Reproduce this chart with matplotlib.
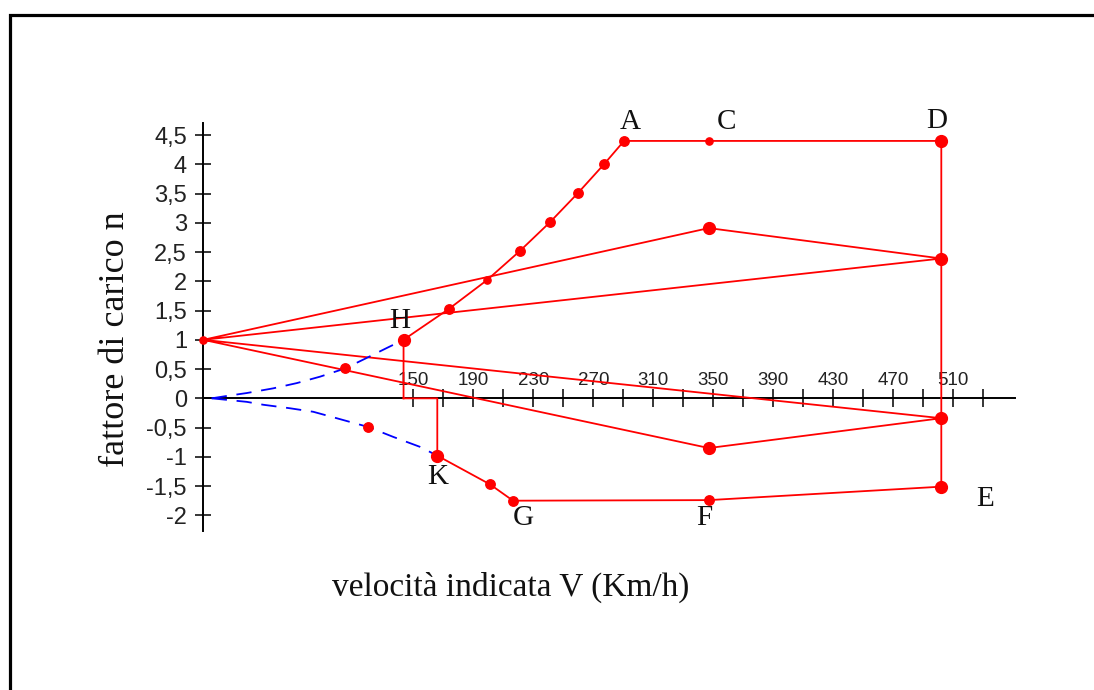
import matplotlib.pyplot as plt
from matplotlib.patches import Rectangle

plt.rcParams['lines.scale_dashes'] = False

# diagramma di manovra: velocita' (km/h) e fattore di carico n letti dal grafico
# curva di stallo positiva H -> A
pos_v = [143.5, 173.8, 199.1, 221.1, 241.1, 259.8, 277.1, 290.5]
pos_n = [1.0, 1.53, 2.02, 2.52, 3.01, 3.51, 4.00, 4.40]
# curva di stallo negativa K -> G
neg_v = [166, 201.1, 216.5]
neg_n = [-0.98, -1.47, -1.75]
# punti C/F e D/E
v_c = 347
v_d = 502
n_max = 4.40
n_e = -1.51
n_f = -1.74

# linee di raffica
gust_v = [10, 347, 502, 10]
gust_up = [1, 2.91, 2.39, 1]
gust_dn = [1, -0.85, -0.34, 1]

# curve blu tratteggiate
blue_up_v = [15.6, 25.6, 38.9, 56.5, 72.3, 87.8, 104.5, 118.9, 132.3, 143.5]
blue_up_n = [0.0, 0.04, 0.09, 0.17, 0.26, 0.37, 0.51, 0.69, 0.86, 1.0]
blue_dn_v = [15.6, 23.3, 38.9, 50.0, 67.8, 83.3, 98.9, 120.0, 136.7, 154.5, 166]
blue_dn_n = [0.0, -0.02, -0.06, -0.11, -0.17, -0.23, -0.34, -0.49, -0.66, -0.83, -0.98]

yticks = [-2, -1.5, -1, -0.5, 0, 0.5, 1, 1.5, 2, 2.5, 3, 3.5, 4, 4.5]
ylabels = ['-2', '-1,5', '-1', '-0,5', '0', '0,5', '1', '1,5', '2', '2,5', '3', '3,5', '4', '4,5']
xmajor = [150, 190, 230, 270, 310, 350, 390, 430, 470, 510]
xminor = [170, 210, 250, 290, 330, 370, 410, 450, 490, 530]

W, H = 1094, 690
fig = plt.figure(figsize=(W / 100, H / 100), dpi=100)
ax = fig.add_axes([0, 0, 1, 1])
ax.set_xlim(-125.53, 603.8)
ax.set_ylim(-4.986, 6.809)
ax.patch.set_visible(False)

# cornice
fig.patches.append(Rectangle((9.5 / W, -0.2), 1.5, 1.2 - 15 / H, transform=fig.transFigure,
                             fill=False, lw=2.3, ec='black'))

red = '#ff0000'
env_x = [pos_v[0]] + pos_v + [v_c, v_d, v_d, v_c] + neg_v[::-1] + [neg_v[0], pos_v[0]]
env_y = [0] + pos_n + [n_max, n_max, n_e, n_f] + neg_n[::-1] + [0, 0]
ax.plot(env_x, env_y, color=red, lw=1.3, zorder=3)
ax.plot(gust_v, gust_up, color=red, lw=1.3, zorder=3)
ax.plot(gust_v, gust_dn, color=red, lw=1.3, zorder=3)

ax.plot(blue_up_v, blue_up_n, color='#0000ff', lw=1.3, dashes=(11, 7), zorder=3)
ax.plot(blue_dn_v, blue_dn_n, color='#0000ff', lw=1.3, dashes=(11, 7), zorder=3)

# punti
big = [(pos_v[0], pos_n[0]), (v_d, n_max), (v_d, n_e), (gust_v[1], gust_up[1]),
       (gust_v[2], gust_up[2]), (gust_v[1], gust_dn[1]), (gust_v[2], gust_dn[2]),
       (neg_v[0], neg_n[0])]
mid = [(v, n) for v, n in zip(pos_v[1:], pos_n[1:]) if v != pos_v[2]] + \
      [(neg_v[1], neg_n[1]), (neg_v[2], neg_n[2]), (v_c, n_f),
       (blue_up_v[6], blue_up_n[6]), (blue_dn_v[7], blue_dn_n[7])]
small = [(pos_v[2], pos_n[2]), (v_c, n_max), (gust_v[0], gust_up[0])]
for pts, ms in [(big, 8.5), (mid, 6.8), (small, 5.2)]:
    ax.plot([p[0] for p in pts], [p[1] for p in pts], 'o', color=red, ms=ms, mec=red, zorder=4)

# assi
for s in ['right', 'bottom']:
    ax.spines[s].set_visible(False)
ax.spines['left'].set_position(('data', 10))
ax.spines['left'].set_bounds(-2.26, 4.7)
ax.spines['top'].set_position(('data', 0))
ax.spines['top'].set_bounds(10, 551)
for s in ['left', 'top']:
    ax.spines[s].set_linewidth(1.4)

ax.yaxis.set_ticks_position('left')
ax.set_yticks(yticks)
ax.set_yticklabels(ylabels, fontfamily='Liberation Sans', fontsize=17, color='#222222')
ax.tick_params(axis='y', direction='inout', length=11.5, width=1.1, pad=6)

ax.xaxis.set_ticks_position('top')
ax.set_xticks(xmajor)
ax.set_xticks(xminor, minor=True)
ax.set_xticklabels([str(v) for v in xmajor], fontfamily='Liberation Sans', fontsize=13.5, color='#222222')
ax.tick_params(axis='x', which='both', direction='inout', length=13, width=1.1, pad=0.5)

# lettere
serif = 'Liberation Serif'
letters = [('A', (pos_v[-1], pos_n[-1]), (6, 19)),
           ('C', (v_c, n_max), (18, 19)),
           ('D', (v_d, n_max), (-5, 20)),
           ('H', (pos_v[0], pos_n[0]), (-4, 19)),
           ('K', (neg_v[0], neg_n[0]), (0, -21)),
           ('G', (neg_v[2], neg_n[2]), (10, -17)),
           ('F', (v_c, n_f), (-5, -18)),
           ('E', (v_d, n_e), (44, -12))]
for txt, xy, off in letters:
    ax.annotate(txt, xy, xytext=off, textcoords='offset pixels', ha='center', va='center',
                fontfamily=serif, fontsize=21, color='#111111')

fig.text(511 / W, 1 - 587 / H, 'velocità indicata V (Km/h)', ha='center', va='center',
         fontfamily=serif, fontsize=24, color='#111111')
fig.text(115 / W, 1 - 339 / H, 'fattore di carico n', ha='center', va='center', rotation=90,
         fontfamily=serif, fontsize=26, color='#111111')

fig.savefig('out.png', dpi=100)
